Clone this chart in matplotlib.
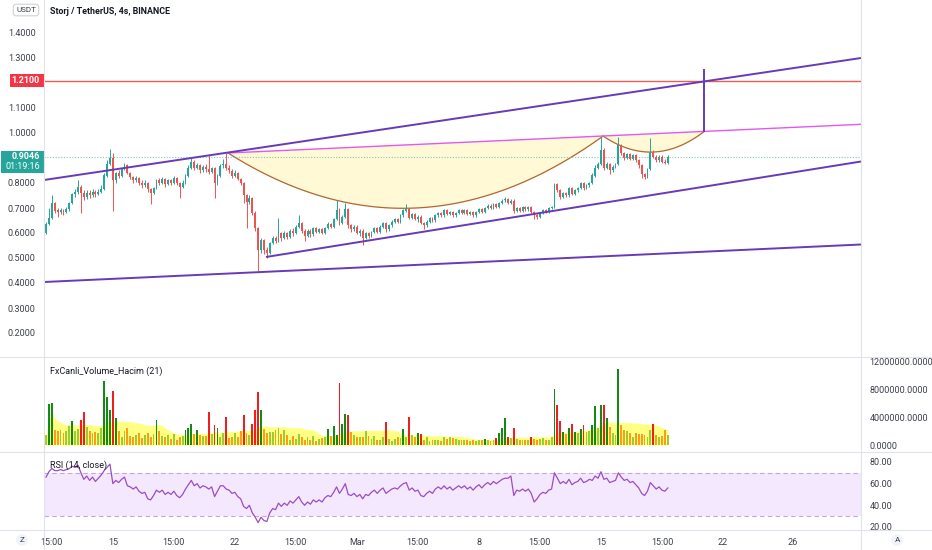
import numpy as np
import pandas as pd
import matplotlib
matplotlib.use("Agg")
import matplotlib.pyplot as plt
from matplotlib import transforms
from matplotlib.patches import Rectangle
from matplotlib.lines import Line2D

plt.rcParams["font.family"] = ["Roboto", "DejaVu Sans"]

# --- 4h candles, STORJ/USDT (open of each bar = previous close) ---
first_open = 0.60
closes = [
    0.635, 0.66, 0.72, 0.69, 0.685, 0.69, 0.685, 0.695, 0.72, 0.755,
    0.765, 0.785, 0.76, 0.745, 0.76, 0.75, 0.765, 0.755, 0.765, 0.775,
    0.83, 0.875, 0.90, 0.81, 0.84, 0.83, 0.855, 0.87, 0.84, 0.825,
    0.81, 0.82, 0.80, 0.79, 0.80, 0.775, 0.76, 0.78, 0.81, 0.80,
    0.815, 0.795, 0.81, 0.80, 0.82, 0.80, 0.785, 0.80, 0.83, 0.86,
    0.885, 0.86, 0.87, 0.85, 0.865, 0.855, 0.845, 0.86, 0.80, 0.83,
    0.87, 0.875, 0.86, 0.85, 0.83, 0.84, 0.815, 0.80, 0.75, 0.725,
    0.74, 0.68, 0.62, 0.53, 0.57, 0.53, 0.52, 0.56, 0.58, 0.57,
    0.60, 0.58, 0.60, 0.585, 0.61, 0.60, 0.625, 0.64, 0.61, 0.59,
    0.61, 0.595, 0.62, 0.605, 0.615, 0.60, 0.62, 0.635, 0.625, 0.655,
    0.69, 0.64, 0.665, 0.695, 0.63, 0.615, 0.625, 0.60, 0.61, 0.58,
    0.60, 0.59, 0.605, 0.62, 0.605, 0.625, 0.64, 0.615, 0.63, 0.645,
    0.655, 0.645, 0.67, 0.69, 0.695, 0.66, 0.675, 0.655, 0.665, 0.64,
    0.63, 0.645, 0.66, 0.65, 0.67, 0.68, 0.67, 0.69, 0.675, 0.685,
    0.67, 0.68, 0.69, 0.68, 0.69, 0.675, 0.685, 0.67, 0.685, 0.695,
    0.685, 0.70, 0.71, 0.70, 0.715, 0.705, 0.72, 0.73, 0.735, 0.72,
    0.73, 0.69, 0.70, 0.69, 0.705, 0.695, 0.705, 0.685, 0.67, 0.665,
    0.68, 0.69, 0.685, 0.70, 0.705, 0.795, 0.77, 0.745, 0.76, 0.75,
    0.78, 0.755, 0.77, 0.78, 0.80, 0.78, 0.79, 0.80, 0.83, 0.86,
    0.875, 0.93, 0.86, 0.875, 0.85, 0.865, 0.875, 0.95, 0.92, 0.90,
    0.915, 0.895, 0.91, 0.89, 0.87, 0.835, 0.825, 0.855, 0.925, 0.905,
    0.89, 0.905, 0.885, 0.88, 0.9046,
]
highs = [
    0.645, 0.70, 0.75, 0.725, 0.70, 0.70, 0.695, 0.705, 0.725, 0.76,
    0.775, 0.81, 0.79, 0.77, 0.77, 0.77, 0.775, 0.77, 0.775, 0.79,
    0.84, 0.89, 0.935, 0.92, 0.845, 0.85, 0.86, 0.88, 0.875, 0.845,
    0.83, 0.83, 0.825, 0.81, 0.81, 0.805, 0.78, 0.785, 0.815, 0.82,
    0.825, 0.82, 0.815, 0.815, 0.83, 0.825, 0.805, 0.81, 0.835, 0.87,
    0.90, 0.89, 0.88, 0.875, 0.87, 0.875, 0.91, 0.865, 0.865, 0.835,
    0.875, 0.895, 0.92, 0.87, 0.855, 0.85, 0.845, 0.82, 0.805, 0.755,
    0.75, 0.745, 0.69, 0.625, 0.58, 0.575, 0.545, 0.565, 0.59, 0.59,
    0.66, 0.605, 0.61, 0.605, 0.615, 0.62, 0.63, 0.67, 0.645, 0.615,
    0.615, 0.615, 0.625, 0.625, 0.62, 0.62, 0.625, 0.645, 0.64, 0.66,
    0.73, 0.70, 0.67, 0.72, 0.70, 0.635, 0.63, 0.63, 0.615, 0.615,
    0.605, 0.605, 0.61, 0.625, 0.625, 0.63, 0.645, 0.645, 0.635, 0.65,
    0.66, 0.66, 0.675, 0.695, 0.715, 0.70, 0.68, 0.68, 0.67, 0.67,
    0.645, 0.65, 0.665, 0.665, 0.675, 0.685, 0.685, 0.695, 0.695, 0.69,
    0.69, 0.685, 0.695, 0.695, 0.695, 0.695, 0.69, 0.69, 0.69, 0.70,
    0.70, 0.705, 0.715, 0.715, 0.72, 0.72, 0.725, 0.735, 0.745, 0.74,
    0.735, 0.735, 0.705, 0.705, 0.71, 0.71, 0.71, 0.71, 0.69, 0.675,
    0.685, 0.695, 0.695, 0.705, 0.71, 0.80, 0.80, 0.775, 0.765, 0.765,
    0.785, 0.785, 0.775, 0.785, 0.805, 0.805, 0.795, 0.805, 0.84, 0.87,
    0.885, 0.985, 0.94, 0.885, 0.88, 0.87, 0.88, 0.985, 0.955, 0.925,
    0.92, 0.92, 0.915, 0.915, 0.895, 0.875, 0.84, 0.86, 0.98, 0.93,
    0.91, 0.91, 0.91, 0.895, 0.91,
]
lows = [
    0.595, 0.63, 0.655, 0.68, 0.665, 0.675, 0.67, 0.68, 0.69, 0.715,
    0.745, 0.755, 0.68, 0.73, 0.735, 0.74, 0.745, 0.745, 0.75, 0.76,
    0.77, 0.825, 0.87, 0.69, 0.80, 0.82, 0.825, 0.85, 0.835, 0.815,
    0.80, 0.805, 0.79, 0.78, 0.785, 0.765, 0.715, 0.755, 0.775, 0.79,
    0.795, 0.785, 0.79, 0.79, 0.795, 0.79, 0.74, 0.78, 0.795, 0.825,
    0.855, 0.85, 0.855, 0.84, 0.845, 0.845, 0.835, 0.84, 0.74, 0.79,
    0.825, 0.86, 0.85, 0.84, 0.82, 0.825, 0.81, 0.79, 0.72, 0.62,
    0.715, 0.67, 0.61, 0.45, 0.52, 0.515, 0.50, 0.515, 0.555, 0.56,
    0.565, 0.57, 0.575, 0.575, 0.58, 0.59, 0.595, 0.62, 0.60, 0.57,
    0.585, 0.585, 0.59, 0.60, 0.60, 0.595, 0.595, 0.615, 0.62, 0.62,
    0.65, 0.63, 0.635, 0.66, 0.62, 0.605, 0.61, 0.595, 0.59, 0.55,
    0.575, 0.58, 0.585, 0.60, 0.60, 0.60, 0.62, 0.605, 0.61, 0.625,
    0.64, 0.64, 0.64, 0.665, 0.685, 0.655, 0.655, 0.65, 0.645, 0.635,
    0.615, 0.625, 0.64, 0.645, 0.645, 0.665, 0.665, 0.665, 0.67, 0.67,
    0.665, 0.665, 0.675, 0.675, 0.675, 0.67, 0.67, 0.665, 0.665, 0.68,
    0.68, 0.68, 0.695, 0.695, 0.695, 0.70, 0.70, 0.715, 0.725, 0.715,
    0.715, 0.68, 0.685, 0.685, 0.685, 0.69, 0.69, 0.68, 0.655, 0.655,
    0.66, 0.675, 0.68, 0.68, 0.695, 0.70, 0.765, 0.735, 0.74, 0.745,
    0.745, 0.75, 0.75, 0.765, 0.775, 0.77, 0.775, 0.785, 0.795, 0.825,
    0.855, 0.87, 0.85, 0.855, 0.835, 0.845, 0.86, 0.87, 0.91, 0.89,
    0.895, 0.89, 0.89, 0.885, 0.86, 0.82, 0.815, 0.82, 0.85, 0.90,
    0.885, 0.885, 0.88, 0.875, 0.875,
]
# volume in millions
volumes_m = [
    1.4, 5.9, 6.1, 2.2, 2.0, 2.2, 1.7, 2.1, 2.8, 3.5,
    2.1, 2.3, 3.6, 4.7, 2.6, 2.1, 1.7, 1.9, 1.8, 2.4,
    9.2, 7.0, 5.1, 7.8, 3.9, 2.1, 1.2, 2.0, 2.4, 1.3,
    1.1, 1.4, 1.8, 1.0, 1.5, 1.8, 1.2, 1.6, 3.6, 2.0,
    1.3, 1.1, 1.5, 0.9, 1.6, 0.8, 1.1, 1.3, 2.2, 2.4,
    3.1, 1.6, 2.2, 1.4, 1.3, 1.3, 4.8, 1.6, 2.9, 2.5,
    1.2, 1.8, 4.0, 1.0, 1.2, 1.7, 1.2, 2.0, 4.3, 1.8,
    1.4, 3.1, 5.0, 7.6, 5.1, 2.3, 1.7, 1.9, 1.9, 2.2,
    2.5, 1.6, 2.2, 1.4, 0.7, 1.3, 0.9, 1.6, 1.2, 0.8,
    1.1, 0.8, 1.3, 0.6, 0.9, 1.0, 1.1, 2.3, 1.3, 2.7,
    1.4, 8.9, 3.0, 4.5, 4.3, 1.9, 1.4, 1.2, 1.2, 1.2,
    2.1, 1.3, 0.9, 1.3, 0.7, 0.8, 1.2, 3.3, 0.9, 0.6,
    0.9, 1.2, 1.0, 2.3, 1.2, 4.1, 1.4, 1.2, 1.7, 1.6,
    0.7, 1.2, 0.6, 0.7, 0.7, 0.8, 0.6, 1.1, 0.9, 1.2,
    1.0, 0.9, 0.7, 0.8, 0.8, 0.7, 0.6, 0.7, 0.6, 0.7,
    0.8, 0.9, 0.7, 0.6, 0.7, 1.0, 1.8, 2.4, 3.9, 1.1,
    1.0, 2.4, 0.9, 0.8, 0.7, 0.8, 0.7, 1.2, 0.9, 0.8,
    0.9, 1.0, 0.8, 0.8, 1.2, 8.1, 5.8, 3.5, 1.9, 1.6,
    2.4, 3.1, 1.9, 1.7, 2.3, 2.9, 1.9, 2.1, 2.9, 5.6,
    2.4, 5.8, 5.8, 3.9, 2.6, 1.7, 1.4, 11.0, 2.9, 2.2,
    2.1, 1.8, 1.1, 1.7, 1.6, 1.6, 1.5, 1.2, 2.2, 3.1,
    1.5, 1.2, 1.3, 2.2, 1.4,
]
rsi = [
    66, 71, 74, 72, 72, 73, 72, 73, 74, 76,
    75, 77, 70, 64, 67, 63, 66, 62, 65, 68,
    72, 75, 78, 60, 63, 61, 64, 66, 58, 57,
    55, 57, 53, 51, 52, 46, 45, 49, 54, 52,
    54, 50, 52, 50, 53, 49, 47, 50, 55, 59,
    63, 58, 60, 56, 58, 57, 55, 57, 48, 53,
    58, 58, 55, 54, 51, 52, 48, 46, 39, 37,
    40, 33, 29, 24, 29, 26, 25, 33, 37, 36,
    42, 39, 42, 40, 44, 42, 45, 48, 43, 40,
    43, 41, 45, 43, 45, 43, 47, 49, 48, 52,
    57, 51, 55, 60, 50, 49, 51, 48, 50, 46,
    50, 49, 52, 54, 51, 54, 56, 51, 53, 55,
    56, 55, 58, 60, 61, 54, 56, 53, 54, 49,
    48, 51, 53, 51, 55, 57, 55, 58, 55, 57,
    54, 56, 58, 56, 58, 55, 57, 54, 57, 59,
    56, 59, 61, 59, 62, 60, 62, 64, 65, 65,
    67, 49, 54, 53, 55, 53, 55, 51, 43, 46,
    50, 52, 51, 54, 55, 70, 65, 60, 62, 60,
    64, 59, 61, 62, 65, 61, 62, 64, 63, 67,
    65, 71, 64, 65, 61, 62, 63, 70, 66, 63,
    64, 61, 62, 59, 56, 51, 49, 53, 61, 58,
    55, 57, 54, 53, 56,
]

# --- drawings on the chart: (candle index, price) anchors ---
upper_channel = [(-0.7, 0.812), (280.5, 1.30)]
lower_channel = [(75.7, 0.504), (280.5, 0.886)]
base_line = [(-0.7, 0.404), (280.5, 0.554)]
target_price = 1.21
cup = [(62.65, 0.92), (191.74, 0.988)]
cup_depth = 0.254
handle = [(191.74, 0.988), (226.5, 1.006)]
handle_depth = 0.073
breakout_top = 1.252
last_price = 0.9046

tick_pos = [2, 23, 44, 65, 86, 107, 128, 149, 170, 191, 212, 233, 257]
tick_labels = ["15:00", "15", "15:00", "22", "15:00", "Mar", "15:00", "8",
               "15:00", "15", "15:00", "22", "26"]

W, H = 932, 550
X_MIN, X_MAX = -0.7, 280.5
UP, DOWN = "#26a69a", "#ef5350"
GRID = "#e0e3eb"
LABEL = "#3c3f4a"

closes = np.array(closes)
opens = np.concatenate([[first_open], closes[:-1]])
idx = np.arange(len(closes))
up = closes >= opens

fig = plt.figure(figsize=(W / 100, H / 100), dpi=100)


def fx(px):
    return px / W


def fy(py):
    return 1 - py / H


ax = fig.add_axes([fx(44), fy(357), fx(861 - 44), 357 / H])
axv = fig.add_axes([fx(44), fy(452), fx(861 - 44), (452 - 357) / H])
axr = fig.add_axes([fx(44), fy(530), fx(861 - 44), (530 - 452) / H])

for a in (ax, axv, axr):
    a.set_xlim(X_MIN, X_MAX)
    for s in a.spines.values():
        s.set_visible(False)
    a.tick_params(axis="x", length=0, labelbottom=False)
    a.tick_params(axis="y", length=0, labelsize=6.5, labelcolor=LABEL)

# --- price pane ---
ax.set_ylim(0.104, 1.532)
ax.vlines(idx, lows, highs, colors=np.where(up, UP, DOWN), linewidth=0.7, zorder=3)
ax.bar(idx, np.abs(closes - opens), bottom=np.minimum(opens, closes), width=0.64,
       color=np.where(up, UP, DOWN), linewidth=0, zorder=4)


def arc(p0, p1, depth, n=120):
    t = np.linspace(0, 1, n)
    x = p0[0] + t * (p1[0] - p0[0])
    chord = p0[1] + t * (p1[1] - p0[1])
    return x, chord, chord - depth * 4 * t * (1 - t)


for anchors, depth in ((cup, cup_depth), (handle, handle_depth)):
    x, chord, low = arc(anchors[0], anchors[1], depth)
    ax.fill_between(x, low, chord, color="#fff9d6", linewidth=0, zorder=1)
    ax.plot(x, low, color="#b3652f", linewidth=0.9, zorder=2)

# cup rim, extended to the right
rim_slope = (cup[1][1] - cup[0][1]) / (cup[1][0] - cup[0][0])
ax.plot([cup[0][0], X_MAX], [cup[0][1], cup[1][1] + rim_slope * (X_MAX - cup[1][0])],
        color="#e357f2", linewidth=1.0, zorder=5)

for line in (upper_channel, lower_channel, base_line):
    ax.plot([p[0] for p in line], [p[1] for p in line], color="#673ab7",
            linewidth=1.4, zorder=5, solid_capstyle="butt")
ax.plot([handle[1][0], handle[1][0]], [handle[1][1], breakout_top], color="#673ab7",
        linewidth=1.4, zorder=5)
ax.axhline(target_price, color="#f45a52", linewidth=1.0, zorder=2)
ax.axhline(last_price, color="#7cc9c1", linewidth=0.8, linestyle=(0, (1, 1.5)), zorder=2)

price_ticks = [0.2, 0.3, 0.4, 0.5, 0.6, 0.7, 0.8, 1.0, 1.1, 1.3, 1.4]
ax.set_yticks(price_ticks)
ax.set_yticklabels([f"{v:.4f}" for v in price_ticks])
ax.tick_params(axis="y", pad=6)

# price labels on the left axis
btr = transforms.blended_transform_factory(fig.transFigure, ax.transData)
fig.add_artist(Rectangle((fx(10), target_price - 0.027), fx(34), 0.054,
                         transform=btr, facecolor="#f23645", edgecolor="none", clip_on=False))
fig.text(fx(40), target_price, f"{target_price:.4f}", transform=btr, ha="right",
         va="center", color="white", fontsize=6.5, fontweight="bold")
fig.add_artist(Rectangle((fx(1), last_price - 0.064), fx(43), 0.088,
                         transform=btr, facecolor=UP, edgecolor="none", clip_on=False))
fig.text(fx(40), last_price + 0.002, f"{last_price:.4f}", transform=btr, ha="right",
         va="center", color="white", fontsize=6.5, fontweight="bold")
fig.text(fx(40), last_price - 0.038, "01:19:16", transform=btr, ha="right",
         va="center", color="white", fontsize=6.5)

fig.text(fx(50), fy(11), "Storj / TetherUS, 4s, BINANCE", ha="left", va="center",
         fontsize=6.4, fontweight="bold", color="#131722")
fig.text(fx(26), fy(10), "USDT", ha="center", va="center", fontsize=5.8, color=LABEL,
         bbox=dict(boxstyle="round,pad=0.35", facecolor="white", edgecolor="#c9ccd4",
                   linewidth=0.7))

# --- volume pane ---
vol = pd.Series(volumes_m) * 1e6
ma = vol.rolling(21, min_periods=1).mean()
above = (vol > ma).to_numpy()
vcolors = np.where(up, np.where(above, "#138a13", "#9acd32"),
                   np.where(above, "#f21d1d", "#ff9a1a"))
axv.set_ylim(-1.0e6, 12.7e6)
axv.fill_between(idx, 0, ma, color="#ffff33", alpha=0.6, linewidth=0, zorder=1)
axv.bar(idx, vol, width=0.64, color=vcolors, linewidth=0, zorder=2)
vol_ticks = [0, 4e6, 8e6, 12e6]
axv.yaxis.tick_right()
axv.set_yticks(vol_ticks)
axv.set_yticklabels([f"{v:.4f}" for v in vol_ticks])
axv.tick_params(axis="y", pad=6)
fig.text(fx(50), fy(371), "FxCanli_Volume_Hacim (21)", ha="left", va="center",
         fontsize=6.5, color="#131722")

# --- RSI pane ---
axr.set_ylim(17.2, 89.2)
axr.axhspan(30, 70, color="#f3e8fd", linewidth=0, zorder=1)
for lvl in (30, 70):
    axr.axhline(lvl, color="#c9a3dc", linewidth=0.8, linestyle=(0, (4, 3)), zorder=2)
axr.plot(idx, rsi, color="#9c4dc4", linewidth=0.9, zorder=3)
rsi_ticks = [20, 40, 60, 80]
axr.yaxis.tick_right()
axr.set_yticks(rsi_ticks)
axr.set_yticklabels([f"{v:.2f}" for v in rsi_ticks])
axr.tick_params(axis="y", pad=6)
axr.set_xticks(tick_pos)
axr.set_xticklabels(tick_labels)
axr.tick_params(axis="x", labelbottom=True, labelsize=6.5, labelcolor=LABEL, pad=6)
fig.text(fx(50), fy(465), "RSI (14, close)", ha="left", va="center", fontsize=6.5,
         color="#131722")

# pane separators
for py in (357, 452, 530):
    fig.add_artist(Line2D([0, 1], [fy(py), fy(py)], transform=fig.transFigure,
                          color=GRID, linewidth=0.8))
for px in (44, 861):
    fig.add_artist(Line2D([fx(px), fx(px)], [0, 1], transform=fig.transFigure,
                          color=GRID, linewidth=0.8))

for px, s in ((22, "Z"), (897, "A")):
    fig.text(fx(px), fy(540), s, ha="center", va="center", fontsize=5.8, color=LABEL,
             bbox=dict(boxstyle="circle,pad=0.35", facecolor="#f0f3fa", edgecolor="none"))

fig.savefig("out.png", dpi=100, facecolor="white")
